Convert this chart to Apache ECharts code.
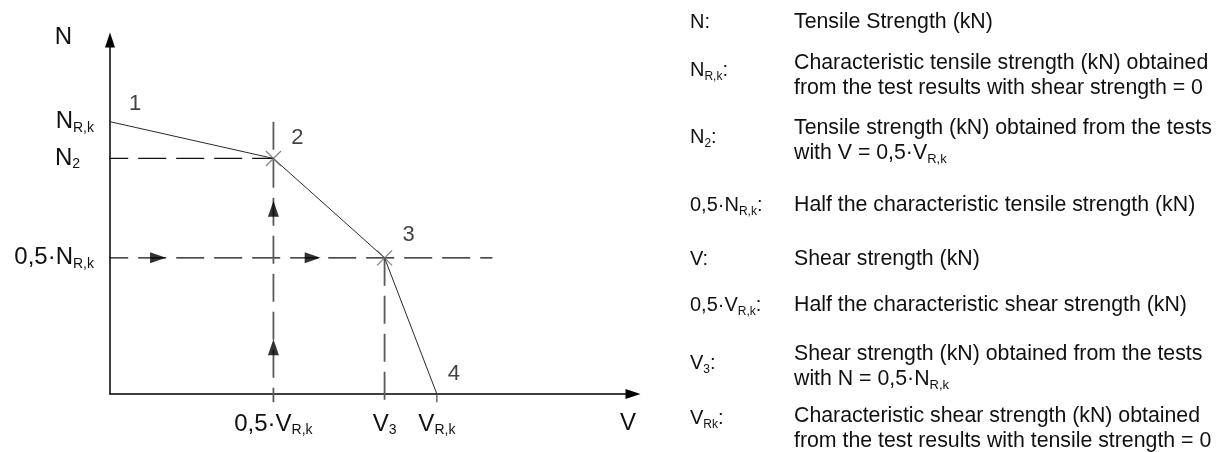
<!DOCTYPE html>
<html>
<head>
<meta charset="utf-8">
<script src="https://cdn.jsdelivr.net/npm/echarts@6/dist/echarts.min.js"></script>
<style>
  html, body { margin: 0; padding: 0; background: #fff; }
  #main { width: 1221px; height: 452px; }
</style>
</head>
<body>
<div id="main"></div>
<script type="text/javascript">
// interaction diagram N-V, values relative to V_Rk = 1 and N_Rk = 1
var curveV = [0, 0.5, 0.84, 1];
var curveN = [1, 0.865, 0.5, 0];
var pointNames = ['1', '2', '3', '4'];
var crossIdx = [1, 2];          // points drawn with a cross

var nTicks = [1, 0.865, 0.5];
var nTickLabels = ['{m|N}{s|R,k}', '{m|N}{s|2}{p|}', '{m|0,5·N}{s|R,k}'];
var vTicks = [0.5, 0.84, 1];
var vTickLabels = ['{m|0,5·V}{s|R,k}', '{m|V}{s|3}', '{m|V}{s|R,k}'];

var arrowsRight = [[0.147, 0.5], [0.62, 0.5]];
var arrowsUp = [[0.5, 0.172], [0.5, 0.68]];

var legendSymbols = [
    'N:',
    'N{s|R,k}:',
    'N{s|2}:',
    '0,5·N{s|R,k}:',
    'V:',
    '0,5·V{s|R,k}:',
    'V{s|3}:',
    'V{s|Rk}:'
];
var legendTexts = [
    'Tensile Strength (kN)',
    'Characteristic tensile strength (kN) obtained\nfrom the test results with shear strength = 0',
    'Tensile strength (kN) obtained from the tests\nwith V = 0,5·V{s|R,k}',
    'Half the characteristic tensile strength (kN)',
    'Shear strength (kN)',
    'Half the characteristic shear strength (kN)',
    'Shear strength (kN) obtained from the tests\nwith N = 0,5·N{s|R,k}',
    'Characteristic shear strength (kN) obtained\nfrom the test results with tensile strength = 0'
];

var FONT = '"Liberation Sans", Arial, sans-serif';
var ext = 0.03;   // guide lines run a bit past the axes

var symY = [22, 70, 137, 205, 259, 305, 363, 418];
var txtY = [22, 75.5, 141, 205, 259, 305, 366.5, 428.5];

function pick(list, labels, v) {
    var best = 0;
    for (var i = 1; i < list.length; i++) {
        if (Math.abs(list[i] - v) < Math.abs(list[best] - v)) best = i;
    }
    return labels[best];
}

var axisRich = {
    m: { fontSize: 24, lineHeight: 26, fontFamily: FONT, color: '#111' },
    s: { fontSize: 14, lineHeight: 17, fontFamily: FONT, color: '#111', verticalAlign: 'bottom' },
    p: { width: 14 }
};
var symRich = {
    s: { fontSize: 12, lineHeight: 16, fontFamily: FONT, fill: '#111', verticalAlign: 'bottom' }
};
var txtRich = {
    s: { fontSize: 13, lineHeight: 16, fontFamily: FONT, fill: '#111', verticalAlign: 'bottom' }
};

var chart = echarts.init(document.getElementById('main'));

var dashH = { color: '#111', width: 1.3, type: [28, 10] };
var dashV = { color: '#5a5a5a', width: 1.8, type: [28, 10] };

function seg(p, style) {
    return {
        type: 'line', data: p, symbol: 'none', silent: true, clip: false,
        lineStyle: style, z: 1
    };
}

var series = [
    seg([[-ext, curveN[1]], [curveV[1], curveN[1]]], dashH),
    seg([[-ext, curveN[2]], [1.17, curveN[2]]], dashH),
    seg([[curveV[1], curveN[0]], [curveV[1], -ext]], dashV),
    seg([[curveV[2], curveN[2]], [curveV[2], -ext]], dashV),
    seg([[curveV[3], 0], [curveV[3], -ext]], { color: '#555', width: 1.3 }),
    seg([[-ext, curveN[0]], [0, curveN[0]]], { color: '#222', width: 1.2 }),
    {
        type: 'line', name: 'curve', symbol: 'none', clip: false, z: 3,
        data: curveV.map(function (v, i) { return [v, curveN[i]]; }),
        lineStyle: { color: '#2a2a2a', width: 1 }
    },
    {
        type: 'scatter', name: 'cross', z: 4,
        symbol: 'path://M0,0L10,10M10,0L0,10', symbolSize: 15,
        itemStyle: { color: 'none', borderColor: '#666', borderWidth: 1.3 },
        data: crossIdx.map(function (i) { return [curveV[i], curveN[i]]; })
    },
    {
        type: 'scatter', name: 'arrowR', z: 5,
        symbol: 'triangle', symbolSize: [11, 16], symbolRotate: -90,
        itemStyle: { color: '#000' },
        data: arrowsRight
    },
    {
        type: 'scatter', name: 'arrowU', z: 5,
        symbol: 'triangle', symbolSize: [11, 16],
        itemStyle: { color: '#000' },
        data: arrowsUp
    },
    {
        type: 'scatter', name: 'numbers', z: 6, symbolSize: 1,
        itemStyle: { color: 'rgba(0,0,0,0)' },
        label: {
            show: true, position: 'inside', color: '#111',
            fontSize: 22, fontFamily: FONT,
            formatter: function (p) { return pointNames[p.dataIndex]; }
        },
        data: [
            { value: [curveV[0], curveN[0]], label: { offset: [25, -18] } },
            { value: [curveV[1], curveN[1]], label: { offset: [24, -21] } },
            { value: [curveV[2], curveN[2]], label: { offset: [24, -23] } },
            { value: [curveV[3], curveN[3]], label: { offset: [17, -20] } }
        ]
    }
];

var graphic = [];
legendSymbols.forEach(function (t, i) {
    graphic.push({
        type: 'text', x: 690, y: symY[i], silent: true,
        style: {
            text: t, fontSize: 20, fontFamily: FONT, fill: '#111',
            lineHeight: 25, verticalAlign: 'middle', align: 'left', rich: symRich
        }
    });
});
legendTexts.forEach(function (t, i) {
    graphic.push({
        type: 'text', x: 794, y: txtY[i], silent: true,
        style: {
            text: t, fontSize: 21.3, fontFamily: FONT, fill: '#111',
            lineHeight: 25, verticalAlign: 'middle', align: 'left', rich: txtRich
        }
    });
});

var option = {
    animation: false,
    backgroundColor: '#fff',
    grid: { left: 110, top: 40, right: 588, bottom: 58 },
    xAxis: {
        type: 'value', min: 0, max: 1.6,
        name: 'V', nameLocation: 'end', nameGap: -5,
        nameTextStyle: { fontSize: 24, fontFamily: FONT, color: '#111', align: 'center', verticalAlign: 'top', padding: [17, 0, 0, 0] },
        axisLine: { lineStyle: { color: '#000', width: 1.5 }, symbol: ['none', 'triangle'], symbolSize: [10, 15] },
        axisTick: { show: false },
        splitLine: { show: false },
        axisLabel: {
            customValues: vTicks, margin: 17, rich: axisRich,
            formatter: function (v) { return pick(vTicks, vTickLabels, v); }
        }
    },
    yAxis: {
        type: 'value', min: 0, max: 1.3,
        name: 'N', nameLocation: 'end', nameGap: 3,
        nameTextStyle: { fontSize: 24, fontFamily: FONT, color: '#111', align: 'right', verticalAlign: 'middle', padding: [0, 38, 0, 0] },
        axisLine: { lineStyle: { color: '#000', width: 1.5 }, symbol: ['none', 'triangle'], symbolSize: [10, 15] },
        axisTick: { show: false },
        splitLine: { show: false },
        axisLabel: {
            customValues: nTicks, margin: 16, rich: axisRich,
            formatter: function (v) { return pick(nTicks, nTickLabels, v); }
        }
    },
    series: series,
    graphic: graphic
};

chart.setOption(option);
</script>
</body>
</html>
